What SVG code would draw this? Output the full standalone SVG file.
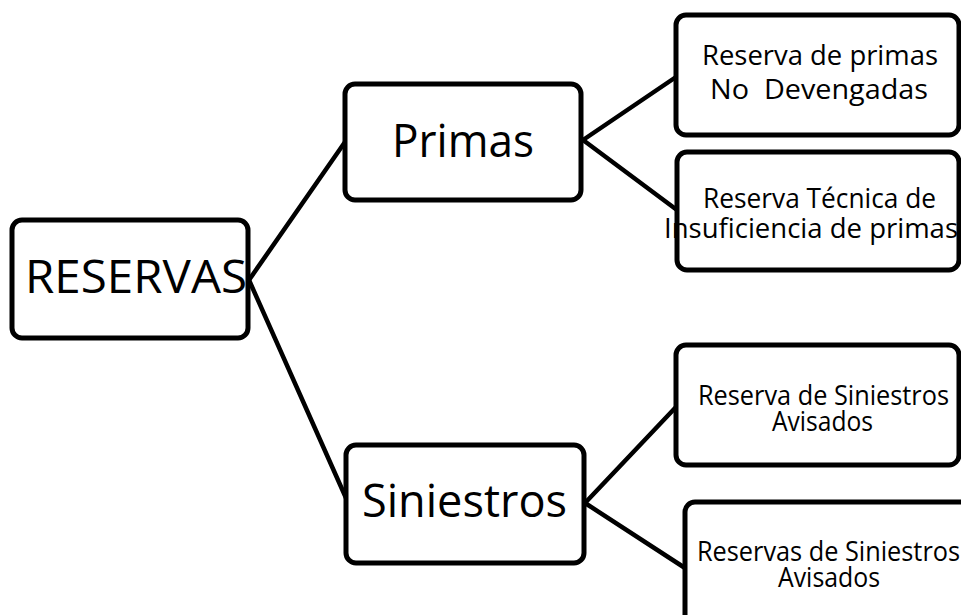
<svg xmlns="http://www.w3.org/2000/svg" width="961" height="615" viewBox="0 0 961 615">
<style>
.box{fill:#fff;stroke:#000;stroke-width:5}
.lnk{stroke:#000;stroke-width:4.5;fill:none;stroke-linecap:round}
text{font-family:"Open Sans","Noto Sans","Liberation Sans",sans-serif;fill:#000;white-space:pre}
.big{font-size:45px}
.sm{font-size:28px}
</style>
<rect width="961" height="615" fill="#fff"/>
<g id="connectors">
<line class="lnk" x1="249" y1="280" x2="345" y2="142"/>
<line class="lnk" x1="249" y1="280" x2="346" y2="498"/>
<line class="lnk" x1="583" y1="140" x2="676" y2="77"/>
<line class="lnk" x1="583" y1="140" x2="677" y2="210"/>
<line class="lnk" x1="585" y1="503" x2="676" y2="407"/>
<line class="lnk" x1="585" y1="503" x2="685" y2="568"/>
</g>
<g id="reservas">
<rect class="box" x="12" y="220" width="236" height="118" rx="10"/>
<text class="big" x="25" y="293" textLength="222" lengthAdjust="spacingAndGlyphs">RESERVAS</text>
</g>
<g id="primas">
<rect class="box" x="345" y="84" width="236" height="116" rx="10"/>
<text class="big" x="392" y="157" textLength="142" lengthAdjust="spacingAndGlyphs">Primas</text>
</g>
<g id="siniestros">
<rect class="box" x="346" y="445" width="238" height="118" rx="10"/>
<text class="big" x="362" y="517" textLength="205" lengthAdjust="spacingAndGlyphs">Siniestros</text>
</g>
<g id="prima-no-devengada">
<rect class="box" x="676" y="15" width="283" height="120" rx="10"/>
<text class="sm" x="702" y="65" textLength="236" lengthAdjust="spacingAndGlyphs">Reserva de primas</text>
<text class="sm" x="710" y="99" textLength="218" lengthAdjust="spacingAndGlyphs">No  Devengadas</text>
</g>
<g id="insuficiencia">
<rect class="box" x="677" y="152" width="282" height="118" rx="10"/>
<text class="sm" x="703" y="208" textLength="233" lengthAdjust="spacingAndGlyphs">Reserva Técnica de</text>
<text class="sm" x="664" y="238" textLength="294" lengthAdjust="spacingAndGlyphs">Insuficiencia de primas</text>
</g>
<g id="siniestros-avisados-1">
<rect class="box" x="676" y="345" width="283" height="120" rx="10"/>
<text class="sm" x="698" y="405" textLength="251" lengthAdjust="spacingAndGlyphs">Reserva de Siniestros</text>
<text class="sm" x="772" y="431" textLength="101" lengthAdjust="spacingAndGlyphs">Avisados</text>
</g>
<g id="siniestros-avisados-2">
<rect class="box" x="685" y="502" width="292" height="135" rx="10"/>
<text class="sm" x="697" y="561" textLength="263" lengthAdjust="spacingAndGlyphs">Reservas de Siniestros</text>
<text class="sm" x="778" y="587" textLength="102" lengthAdjust="spacingAndGlyphs">Avisados</text>
</g>
</svg>
